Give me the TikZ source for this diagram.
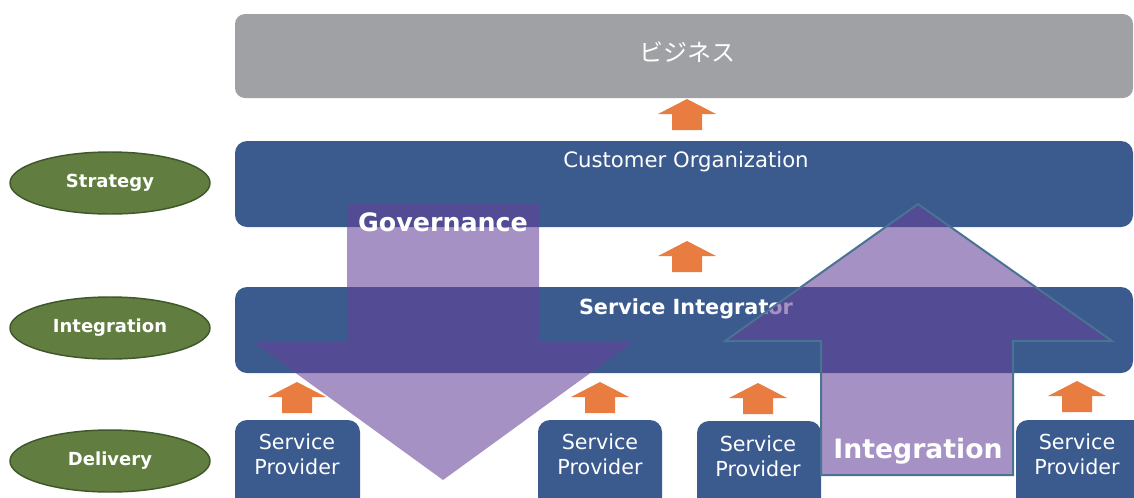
\documentclass[tikz,border=0pt]{standalone}
\usepackage{fontspec}
\setmainfont{DejaVu Sans}
\newfontfamily\jpfont{Noto Sans CJK JP}
\usetikzlibrary{shapes.geometric,fit}

\definecolor{layerblue}{RGB}{59,91,143}
\definecolor{bizgray}{RGB}{160,161,165}
\definecolor{flowOrange}{RGB}{233,124,64}
\definecolor{roleGreen}{RGB}{97,126,64}
\definecolor{roleEdge}{RGB}{62,88,42}
\definecolor{bigPurple}{RGB}{102,66,153}
\definecolor{bigEdge}{RGB}{74,114,146}

\tikzset{
  layerbox/.style={fill=layerblue, draw=none, rounded corners=9pt, inner sep=0pt},
  bizbox/.style={fill=bizgray, draw=none, rounded corners=7.5pt, inner sep=0pt},
  spbox/.style={fill=layerblue, draw=none, rounded corners=9pt, inner sep=0pt},
  role/.style={ellipse, fill=roleGreen, draw=roleEdge, line width=1.1pt,
    minimum width=150pt, minimum height=46.5pt, inner sep=0pt,
    text=white, font=\bfseries\fontsize{13.5}{15}\selectfont},
  layertext/.style={text=white, inner sep=0pt},
  sptext/.style={text=white, align=center, inner sep=0pt,
    font=\fontsize{15.5}{18.8}\selectfont},
  bigflow/.style={fill=bigPurple, fill opacity=0.58},
  bigtext/.style={text=white, inner sep=0pt, font=\bfseries\fontsize{20}{22}\selectfont},
  uparrow/.pic={
    \fill[flowOrange] (-15,0) -- (-15,-16) -- (-29,-16) -- (0,-31)
      -- (29,-16) -- (15,-16) -- (15,0) -- cycle;
  }
}

\begin{document}
\begin{tikzpicture}[x=0.75pt, y=-0.75pt]
  \useasboundingbox (0,0) rectangle (1134,497);
  \clip (0,0) rectangle (1134,497);

  % layer boxes
  \node[bizbox, fit={(235,14) (1133,98)}] (biz) {};
  \node[layerbox, fit={(235,141) (1133,227)}] (cust) {};
  \node[layerbox, fit={(235,287) (1133,373)}] (integ) {};

  \node[layertext, font=\jpfont\fontsize{18}{20}\selectfont] (bizT) at (687,52) {ビジネス};
  \node[layertext, font=\fontsize{15.9}{18}\selectfont] (custT) at (686,162) {Customer Organization};
  \node[layertext, font=\bfseries\fontsize{15.6}{18}\selectfont] (integT) at (686,309) {Service Integrator};

  % service provider boxes (cut by the lower edge)
  \node[spbox, fit={(235,420) (360,520)}] (sp1) {};
  \node[spbox, fit={(538,420) (662,520)}] (sp2) {};
  \node[spbox, fit={(697,421) (821,520)}] (sp3) {};
  \node[spbox, fit={(1016,420) (1150,520)}] (sp4) {};

  \node[sptext] (sp1T) at (297,454) {Service\\Provider};
  \node[sptext] (sp2T) at (600,454) {Service\\Provider};
  \node[sptext] (sp3T) at (758,456) {Service\\Provider};
  \node[sptext] (sp4T) at (1077,454) {Service\\Provider};

  % role ellipses
  \node[role] (strategy) at (110,183) {Strategy};
  \node[role] (integration) at (110,328) {Integration};
  \node[role] (delivery) at (110,461) {Delivery};

  % orange flow arrows
  \pic at (687,130) {uparrow};
  \pic at (687,272) {uparrow};
  \pic at (297,413) {uparrow};
  \pic at (600,413) {uparrow};
  \pic at (758,414) {uparrow};
  \pic at (1077,412) {uparrow};

  % governance flows downwards
  \fill[bigflow] (347,204) -- (539,204) -- (539,342) -- (633,342)
    -- (443,480) -- (253,342) -- (347,342) -- cycle;
  % integration flows upwards
  \filldraw[bigflow, draw=bigEdge, draw opacity=1, line width=1.5pt, line join=miter]
    (918,204) -- (1112,341) -- (1013,341) -- (1013,475)
    -- (821,475) -- (821,341) -- (725,341) -- cycle;

  \node[bigtext, font=\bfseries\fontsize{19}{22}\selectfont] (govT) at (443,222) {Governance};
  \node[bigtext] (intT) at (918,451) {Integration};
\end{tikzpicture}
\end{document}
